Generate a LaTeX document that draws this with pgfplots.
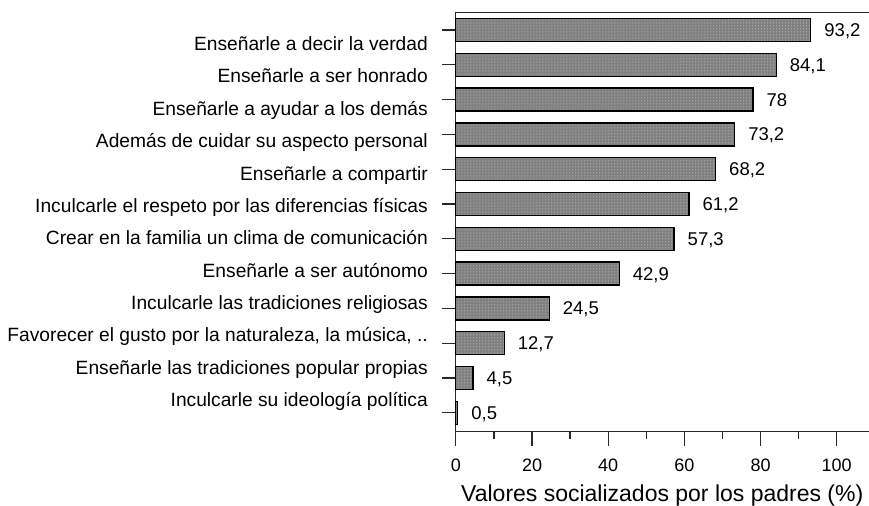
\documentclass[border=0pt]{standalone}
\usepackage{fontspec}
\setmainfont{Liberation Sans}
\usepackage{pgfplots}
\pgfplotsset{compat=1.18}
\usetikzlibrary{patterns}

\definecolor{barfill}{RGB}{128,128,128}
\definecolor{dotcol}{RGB}{215,215,215}
\definecolor{axcol}{RGB}{40,40,40}
\newcommand\catfont{\fontsize{19.2}{22}\selectfont}

\begin{document}
\begin{tikzpicture}
\begin{axis}[
    name=ax,
    scale only axis,
    width=413pt, height=419.4pt,
    xmin=0, xmax=108.4,
    ymin=-0.537, ymax=11.508,
    clip=false,
    axis x line=box, axis y line=left,
    axis line style={-, line width=1.3pt, draw=axcol},
    x axis line style={-}, y axis line style={-},
    xtick={0,20,...,100}, minor x tick num=1,
    xtick pos=bottom,
    ytick={0,...,11}, yticklabels={},
    tick align=outside,
    major tick length=14pt, minor tick length=7pt,
    tick style={line width=1.2pt, draw=axcol},
    xticklabel style={font=\fontsize{18}{20}\selectfont, inner sep=0pt, anchor=north, yshift=-13pt},
    xlabel={Valores socializados por los padres (\%)},
    xlabel style={at={(axis description cs:0.5,0)}, anchor=base, yshift=-70pt,
        font=\fontsize{23}{26}\selectfont, inner sep=0pt},
    /pgf/number format/assume math mode=true,
    /pgf/number format/use comma,
    /pgf/number format/fixed,
    /pgf/number format/precision=1,
]

\addplot[xbar, bar width=0.66, fill=barfill, draw=black, line width=1.3pt,
    postaction={pattern=dots, pattern color=dotcol},
    point meta=x,
    nodes near coords,
    nodes near coords style={anchor=west, inner sep=0pt, xshift=13pt, text depth=0pt,
        font=\fontsize{18.5}{20}\selectfont, text=black},
] coordinates {
    (93.2,11)
    (84.1,10)
    (78,9)
    (73.2,8)
    (68.2,7)
    (61.2,6)
    (57.3,5)
    (42.9,4)
    (24.5,3)
    (12.7,2)
    (4.5,1)
    (0.5,0)
};

% etiquetas de categoria (desplazadas como en el original)
\node at (axis cs:0,10.406) [anchor=base east, xshift=-24.5pt, font=\catfont] {Enseñarle a decir la verdad};
\node at (axis cs:0,9.477) [anchor=base east, xshift=-24.5pt, font=\catfont] {Enseñarle a ser honrado};
\node at (axis cs:0,8.547) [anchor=base east, xshift=-24.5pt, font=\catfont] {Enseñarle a ayudar a los demás};
\node at (axis cs:0,7.618) [anchor=base east, xshift=-24.5pt, font=\catfont] {Además de cuidar su aspecto personal};
\node at (axis cs:0,6.688) [anchor=base east, xshift=-24.5pt, font=\catfont] {Enseñarle a compartir};
\node at (axis cs:0,5.759) [anchor=base east, xshift=-24.5pt, font=\catfont] {Inculcarle el respeto por las diferencias físicas};
\node at (axis cs:0,4.830) [anchor=base east, xshift=-24.5pt, font=\catfont] {Crear en la familia un clima de comunicación};
\node at (axis cs:0,3.900) [anchor=base east, xshift=-24.5pt, font=\catfont] {Enseñarle a ser autónomo};
\node at (axis cs:0,2.971) [anchor=base east, xshift=-24.5pt, font=\catfont] {Inculcarle las tradiciones religiosas};
\node at (axis cs:0,2.041) [anchor=base east, xshift=-24.5pt, font=\catfont] {Favorecer el gusto por la naturaleza, la música, ..};
\node at (axis cs:0,1.112) [anchor=base east, xshift=-24.5pt, font=\catfont] {Enseñarle las tradiciones popular propias};
\node at (axis cs:0,0.183) [anchor=base east, xshift=-24.5pt, font=\catfont] {Inculcarle su ideología política};

\end{axis}
\pgfresetboundingbox
\path[use as bounding box] ([xshift=-456pt, yshift=-74.3pt]ax.south west)
    rectangle ([xshift=0.3pt, yshift=12.3pt]ax.north east);
\end{tikzpicture}
\end{document}
